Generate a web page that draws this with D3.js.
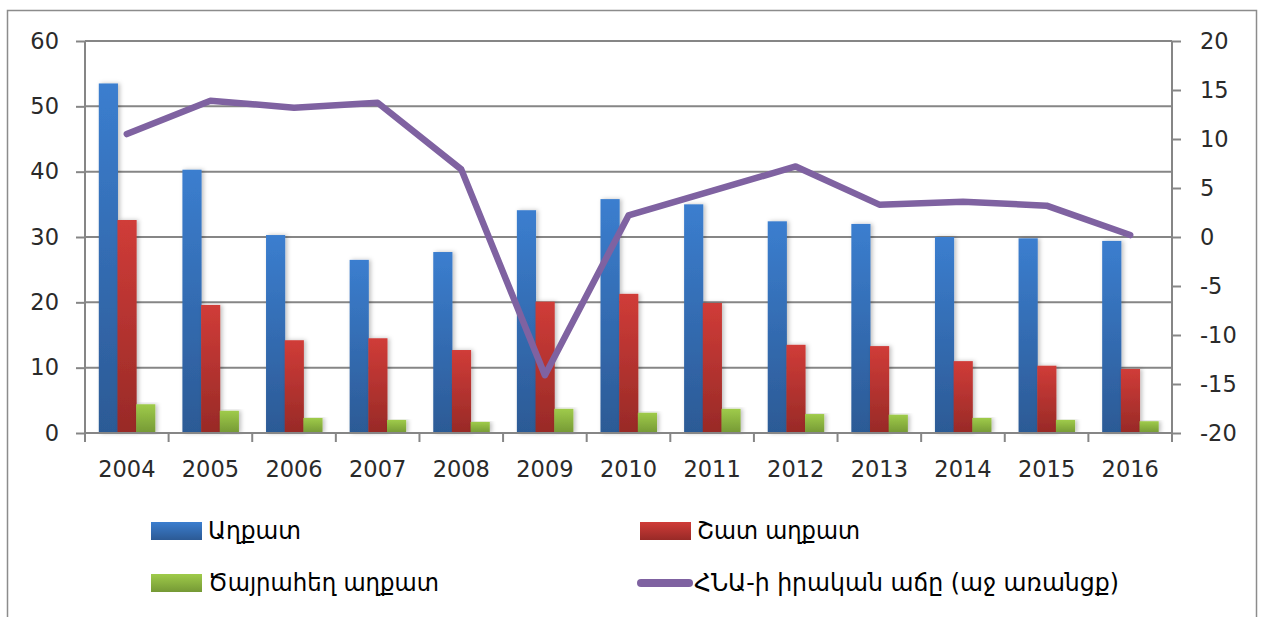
<!DOCTYPE html>
<html>
<head>
<meta charset="utf-8">
<script src="https://cdn.jsdelivr.net/npm/d3@7"></script>
<style>
  body { margin: 0; background: #fff; }
  .axis text { font-family: "DejaVu Sans", sans-serif; font-size: 22.5px; fill: #2a2a2a; }
  .axis path, .axis line { stroke: #868686; stroke-width: 2; }
  .legend text { font-family: "DejaVu Sans Condensed", "DejaVu Sans", sans-serif; font-size: 25px; fill: #000; }
</style>
</head>
<body>
<div class="container"></div>
<script>
const WIDTH = 1264;
const HEIGHT = 617;

var years = ["2004", "2005", "2006", "2007", "2008", "2009", "2010", "2011", "2012", "2013", "2014", "2015", "2016"];
var poor = [53.5, 40.3, 30.3, 26.5, 27.7, 34.1, 35.8, 35.0, 32.4, 32.0, 30.0, 29.8, 29.4];
var veryPoor = [32.6, 19.6, 14.2, 14.5, 12.7, 20.1, 21.3, 19.9, 13.5, 13.3, 11.0, 10.3, 9.8];
var extremePoor = [4.4, 3.4, 2.3, 2.0, 1.7, 3.7, 3.1, 3.7, 2.9, 2.8, 2.3, 2.0, 1.8];
var gdpGrowth = [10.5, 13.9, 13.2, 13.7, 6.9, -14.1, 2.2, 4.7, 7.2, 3.3, 3.6, 3.2, 0.2];

var leftTicks = [0, 10, 20, 30, 40, 50, 60];
var rightTicks = [-20, -15, -10, -5, 0, 5, 10, 15, 20];

var barSeries = [
    {name: "Աղքատ", values: poor, top: "#3b7ecf", bottom: "#2c5a95"},
    {name: "Շատ աղքատ", values: veryPoor, top: "#d03c38", bottom: "#982a27"},
    {name: "Ծայրահեղ աղքատ", values: extremePoor, top: "#9fcb4a", bottom: "#759935"}
];
var lineName = "ՀՆԱ-ի իրական աճը (աջ առանցք)";
var lineColor = "#7f62a1";

var plot = {left: 85, right: 1172, top: 41, bottom: 433};

var xScale = d3.scaleBand()
    .domain(years)
    .range([plot.left, plot.right])
    .paddingInner(0.33)
    .paddingOuter(0.165);

var xInner = d3.scaleBand()
    .domain(d3.range(barSeries.length))
    .range([0, xScale.bandwidth()]);

var yLeft = d3.scaleLinear().domain([0, 60]).range([plot.bottom, plot.top]);
var yRight = d3.scaleLinear().domain([-20, 20]).range([plot.bottom, plot.top]);

var svg = d3.select('.container').append('svg')
    .attr('width', WIDTH)
    .attr('height', HEIGHT);

// outer frame
svg.append('rect')
    .attr('x', 7.5).attr('y', 10.5)
    .attr('width', 1249).attr('height', 640)
    .attr('fill', 'none')
    .attr('stroke', '#8c8c8c')
    .attr('stroke-width', 1.5);

var defs = svg.append('defs');
barSeries.forEach(function (s, i) {
    var g = defs.append('linearGradient')
        .attr('id', 'grad' + i)
        .attr('x1', 0).attr('y1', 0).attr('x2', 0).attr('y2', 1);
    g.append('stop').attr('offset', '0%').attr('stop-color', s.top);
    g.append('stop').attr('offset', '100%').attr('stop-color', s.bottom);
});
var shadow = defs.append('filter').attr('id', 'shadow')
    .attr('x', '-20%').attr('y', '-5%').attr('width', '160%').attr('height', '110%');
shadow.append('feDropShadow')
    .attr('dx', 2).attr('dy', 0).attr('stdDeviation', 2)
    .attr('flood-color', '#000').attr('flood-opacity', 0.25);

// gridlines
svg.append('g').selectAll('line').data(leftTicks.slice(1))
    .enter().append('line')
    .attr('x1', plot.left).attr('x2', plot.right)
    .attr('y1', yLeft).attr('y2', yLeft)
    .attr('stroke', '#868686')
    .attr('stroke-width', 2);

// bars
barSeries.forEach(function (s, i) {
    svg.append('g').selectAll('rect').data(s.values)
        .enter().append('rect')
        .attr('x', function (d, j) { return xScale(years[j]) + xInner(i); })
        .attr('y', function (d) { return yLeft(d); })
        .attr('width', xInner.bandwidth() + 0.5)
        .attr('height', function (d) { return yLeft(0) - yLeft(d); })
        .attr('fill', 'url(#grad' + i + ')')
        .attr('filter', 'url(#shadow)');
});

// axes
var plain = function (d) { return String(d); };

var leftAxis = d3.axisLeft(yLeft).tickValues(leftTicks).tickFormat(plain).tickSize(9).tickPadding(17);
svg.append('g').attr('class', 'axis')
    .attr('transform', 'translate(' + plot.left + ',0)')
    .call(leftAxis)
    .call(function (g) { g.select('.domain').attr('d', 'M0,' + plot.top + 'V' + plot.bottom); });

var rightAxis = d3.axisRight(yRight).tickValues(rightTicks).tickFormat(plain).tickSize(9).tickPadding(19);
svg.append('g').attr('class', 'axis')
    .attr('transform', 'translate(' + plot.right + ',0)')
    .call(rightAxis)
    .call(function (g) { g.select('.domain').attr('d', 'M0,' + plot.top + 'V' + plot.bottom); });

var xAxis = d3.axisBottom(xScale).tickSize(0).tickPadding(28);
var xg = svg.append('g').attr('class', 'axis')
    .attr('transform', 'translate(0,' + plot.bottom + ')')
    .call(xAxis);
xg.select('.domain').attr('d', 'M' + plot.left + ',0H' + plot.right);
xg.selectAll('.boundary').data(d3.range(years.length + 1))
    .enter().append('line')
    .attr('class', 'boundary')
    .attr('x1', function (k) { return plot.left + k * xScale.step(); })
    .attr('x2', function (k) { return plot.left + k * xScale.step(); })
    .attr('y1', 0).attr('y2', 9);

// GDP line
var line = d3.line()
    .x(function (d, j) { return xScale(years[j]) + xScale.bandwidth() / 2; })
    .y(function (d) { return yRight(d); });

svg.append('path')
    .attr('d', line(gdpGrowth))
    .attr('fill', 'none')
    .attr('stroke', lineColor)
    .attr('stroke-width', 6.5)
    .attr('stroke-linejoin', 'round')
    .attr('stroke-linecap', 'round');

// legend
var legendItems = [
    {name: barSeries[0].name, x: 151, y: 522, fill: 'url(#grad0)', len: 93},
    {name: barSeries[1].name, x: 640, y: 522, fill: 'url(#grad1)', len: 163},
    {name: barSeries[2].name, x: 151, y: 574, fill: 'url(#grad2)', len: 231},
    {name: lineName, x: 637, y: 574, line: true, len: 425}
];
var legend = svg.append('g').attr('class', 'legend');
legendItems.forEach(function (it) {
    if (it.line) {
        legend.append('line')
            .attr('x1', it.x + 4).attr('x2', it.x + 52)
            .attr('y1', it.y + 9).attr('y2', it.y + 9)
            .attr('stroke', lineColor)
            .attr('stroke-width', 8)
            .attr('stroke-linecap', 'round');
    } else {
        legend.append('rect')
            .attr('x', it.x).attr('y', it.y)
            .attr('width', 51).attr('height', 18)
            .attr('fill', it.fill);
    }
    legend.append('text')
        .attr('x', it.x + 57)
        .attr('y', it.y + 17)
        .attr('textLength', it.len)
        .attr('lengthAdjust', 'spacingAndGlyphs')
        .text(it.name);
});
</script>
</body>
</html>
